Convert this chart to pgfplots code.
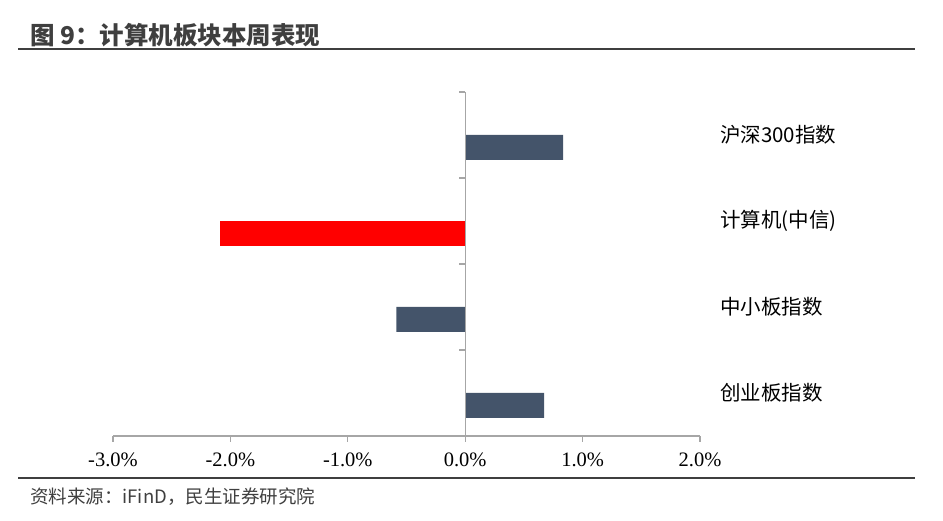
\documentclass[border=0pt]{standalone}
\usepackage{pgfplots}
\pgfplotsset{compat=1.18}
\usepackage{fontspec}
\setmainfont{Liberation Serif}
\newfontfamily\cjk{Noto Sans CJK SC}
\definecolor{barblue}{HTML}{44546A}
\definecolor{axisgray}{HTML}{A6A6A6}
\definecolor{txtgray}{HTML}{3F3F3F}
\begin{document}
\begin{tikzpicture}[x=1pt,y=1pt]
\path[use as bounding box] (0,0) rectangle (943,521);
\draw[txtgray, line width=2.5pt] (18,472) -- (915,472);
\draw[txtgray, line width=2.5pt] (18,43) -- (915,43);
\node[anchor=west, font=\cjk\bfseries\fontsize{24.5}{28}\selectfont, text=txtgray, inner sep=0pt] at (30,486) {图 9：计算机板块本周表现};
\node[anchor=west, font=\cjk\fontsize{18.5}{22}\selectfont, text=txtgray, inner sep=0pt] at (30,24) {资料来源：iFinD，民生证券研究院};
\begin{axis}[
  at={(113pt,85pt)}, anchor=south west, scale only axis,
  width=587pt, height=344pt,
  xmin=-3, xmax=2, ymin=0, ymax=4,
  axis x line=bottom, axis y line=none,
  axis line style={-, axisgray, line width=1.2pt},
  xtick={-3,-2,-1,0,1,2},
  tick align=outside, major tick length=6pt,
  tick style={axisgray, line width=1.2pt},
  /pgf/number format/assume math mode=true,
  xticklabel={\pgfmathprintnumber[fixed,fixed zerofill,precision=1]{\tick}\%},
  xticklabel style={font=\fontsize{20.5}{24}\selectfont, text=black, yshift=-7pt},
  clip=false,
]
\addplot[xbar, bar shift=0pt, bar width=0.29, fill=barblue, draw=none]
  coordinates {(0.834,3.355) (-0.587,1.355) (0.672,0.355)};
\addplot[xbar, bar shift=0pt, bar width=0.29, fill=red, draw=none]
  coordinates {(-2.085,2.355)};
\draw[axisgray, line width=1.2pt] (axis cs:0,0) -- (axis cs:0,4);
\pgfplotsinvokeforeach{1,2,3,4}{\draw[axisgray, line width=1.2pt] (axis cs:0,#1) -- ++(-6pt,0pt);}
\node[anchor=west, font=\cjk\fontsize{20.5}{24}\selectfont, inner sep=0pt, xshift=20pt] at (axis cs:2,3.5) {沪深300指数};
\node[anchor=west, font=\cjk\fontsize{20.5}{24}\selectfont, inner sep=0pt, xshift=20pt] at (axis cs:2,2.5) {计算机(中信)};
\node[anchor=west, font=\cjk\fontsize{20.5}{24}\selectfont, inner sep=0pt, xshift=20pt] at (axis cs:2,1.5) {中小板指数};
\node[anchor=west, font=\cjk\fontsize{20.5}{24}\selectfont, inner sep=0pt, xshift=20pt] at (axis cs:2,0.5) {创业板指数};
\end{axis}
\end{tikzpicture}
\end{document}
